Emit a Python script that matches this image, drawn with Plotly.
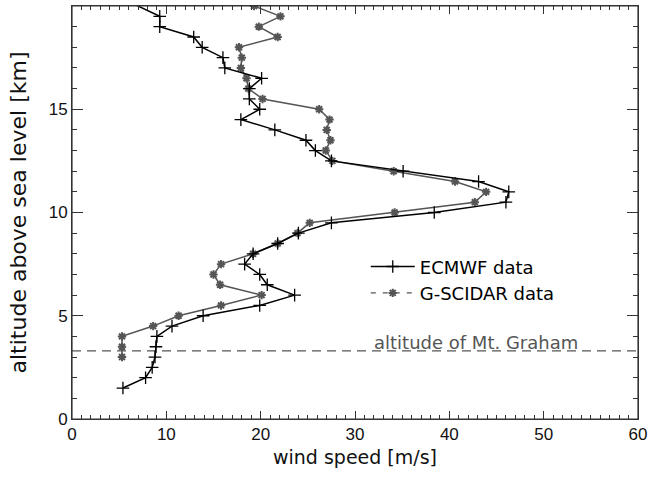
import plotly.graph_objects as go

# ECMWF data (altitude km, wind speed m/s)
ecmwf_alt = [1.5, 2.0, 2.5, 3.0, 3.5, 4.0, 4.5, 5.0, 5.5, 6.0, 6.5, 7.0, 7.5, 8.0, 8.5,
             9.0, 9.5, 10.0, 10.5, 11.0, 11.5, 12.0, 12.5, 13.0, 13.5, 14.0, 14.5, 15.0,
             15.5, 16.0, 16.5, 17.0, 17.5, 18.0, 18.5, 19.0, 19.5, 20.5]
ecmwf_speed = [5.4, 7.8, 8.5, 8.8, 8.9, 9.0, 10.6, 13.9, 19.9, 23.6, 20.7, 19.9, 18.3, 19.2, 21.8,
               24.0, 27.5, 38.4, 46.0, 46.3, 43.1, 35.1, 27.5, 25.8, 24.8, 21.5, 17.9, 19.9,
               18.8, 18.8, 20.1, 16.2, 16.0, 13.8, 12.9, 9.3, 9.3, 4.7]

# G-SCIDAR data
scidar_alt = [3.0, 3.5, 4.0, 4.5, 5.0, 5.5, 6.0, 6.5, 7.0, 7.5, 8.0, 8.5, 9.0, 9.5, 10.0,
              10.5, 11.0, 11.5, 12.0, 12.5, 13.0, 13.5, 14.0, 14.5, 15.0, 15.5, 16.0, 16.5,
              17.0, 17.5, 18.0, 18.5, 19.0, 19.5, 20.0, 20.5]
scidar_speed = [5.3, 5.3, 5.3, 8.6, 11.3, 15.8, 20.1, 15.7, 15.0, 15.8, 19.2, 21.8, 23.9, 25.2, 34.2,
                42.7, 43.9, 40.6, 34.1, 27.6, 26.9, 27.4, 27.0, 27.3, 26.2, 20.2, 18.7, 18.5,
                17.9, 18.0, 17.7, 21.8, 19.8, 22.1, 19.3, 18.3]

mt_graham_alt = 3.3
x_range = [0, 60]
y_range = [0, 20]
legend_names = ["ECMWF data", "G-SCIDAR data"]
ref_label = "altitude of Mt. Graham"
ref_label_x = 31.8

BLACK = "#000000"
GRAY = "#555555"
FRAME = "#333333"
TXT = "#111111"
FONT = "DejaVu Sans"
TICKFONT = "Liberation Sans"

fig = go.Figure()

# reference altitude line
fig.add_trace(go.Scatter(x=x_range, y=[mt_graham_alt, mt_graham_alt], mode="lines",
                         line=dict(color=GRAY, width=1.2, dash="9px,6px"),
                         showlegend=False, hoverinfo="skip"))

fig.add_trace(go.Scatter(x=scidar_speed, y=scidar_alt, mode="lines+markers",
                         line=dict(color=GRAY, width=1.5),
                         marker=dict(symbol="asterisk-open", size=7, color=GRAY,
                                     line=dict(color=GRAY, width=2)),
                         showlegend=False))
fig.add_trace(go.Scatter(x=ecmwf_speed, y=ecmwf_alt, mode="lines+markers",
                         line=dict(color=BLACK, width=1.5),
                         marker=dict(symbol="cross-thin-open", size=9, color=BLACK,
                                     line=dict(color=BLACK, width=1.3)),
                         showlegend=False))

# legend entries
fig.add_trace(go.Scatter(x=[None], y=[None], mode="lines+markers", name=legend_names[0],
                         line=dict(color=BLACK, width=1.3),
                         marker=dict(symbol="cross-thin-open", size=9, color=BLACK,
                                     line=dict(color=BLACK, width=1.3))))
fig.add_trace(go.Scatter(x=[None], y=[None], mode="lines+markers", name=legend_names[1],
                         line=dict(color=GRAY, width=1.3, dash="5px,7px"),
                         marker=dict(symbol="asterisk-open", size=7, color=GRAY,
                                     line=dict(color=GRAY, width=2))))

fig.add_annotation(x=ref_label_x, y=mt_graham_alt, xref="x", yref="y",
                   text=ref_label, showarrow=False, xanchor="left", yanchor="bottom",
                   yshift=-4, font=dict(family=FONT, size=18, color=GRAY))

# plot frame
fig.add_shape(type="rect", xref="paper", yref="paper", x0=0, x1=1, y0=0, y1=1,
              line=dict(color=FRAME, width=1.2), fillcolor="rgba(0,0,0,0)", layer="above")

common = dict(showline=True, linecolor=FRAME, linewidth=1, mirror="allticks",
              ticks="inside", tickcolor=FRAME, tickwidth=1,
              showgrid=False, zeroline=False, tick0=0,
              tickfont=dict(family=TICKFONT, size=17, color=TXT))

fig.update_xaxes(range=x_range, dtick=10, ticklen=8,
                 minor=dict(dtick=1, ticks="inside", ticklen=4, tickcolor=FRAME, showgrid=False),
                 title=dict(text="wind speed [m/s]", font=dict(family=FONT, size=19, color=TXT),
                            standoff=7),
                 **common)
fig.update_yaxes(range=y_range, dtick=5, ticklen=11,
                 minor=dict(dtick=1, ticks="inside", ticklen=5, tickcolor=FRAME, showgrid=False),
                 title=dict(text="altitude above sea level [km]",
                            font=dict(family=FONT, size=22, color=TXT), standoff=15),
                 **common)

fig.update_layout(
    width=668, height=477,
    margin=dict(l=72, r=30, t=6, b=58),
    plot_bgcolor="white", paper_bgcolor="white",
    font=dict(family=FONT, size=18, color=TXT),
    legend=dict(x=0.519, y=0.337, xanchor="left", yanchor="middle",
                bgcolor="rgba(0,0,0,0)", font=dict(family=FONT, size=18, color=BLACK),
                itemwidth=44, tracegroupgap=0),
)

fig.write_html("out.html")
